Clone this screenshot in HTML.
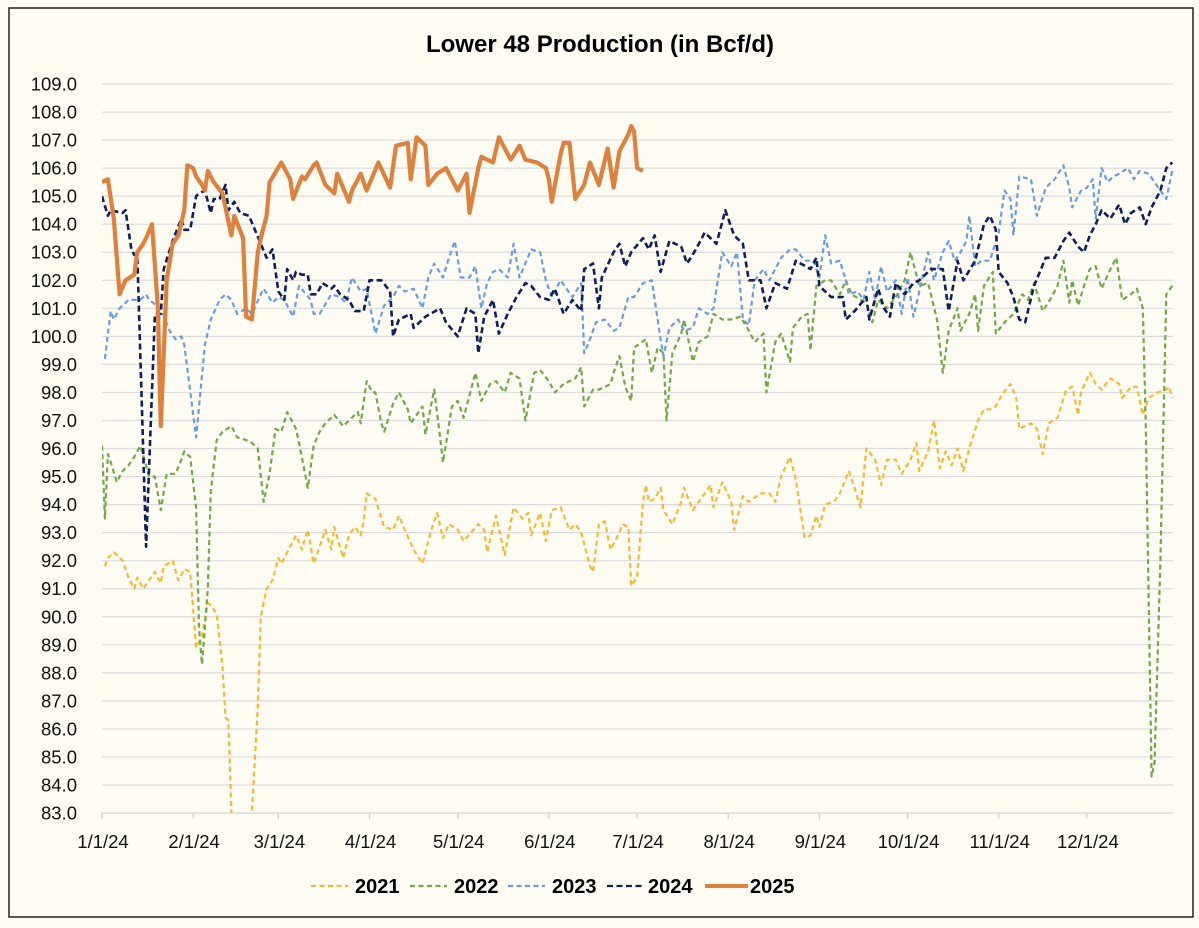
<!DOCTYPE html>
<html><head><meta charset="utf-8">
<style>
html,body{margin:0;padding:0;background:#fffcf3;}
svg{display:block;font-family:"Liberation Sans Narrow","Liberation Sans",sans-serif;}
</style></head>
<body>
<svg id="chart" width="1199" height="928" viewBox="0 0 1199 928">
<rect x="0" y="0" width="1199" height="928" fill="#fffcf3"/>
<rect x="9" y="8" width="1184" height="909" fill="none" stroke="#222" stroke-width="1.5"/>
<text x="600" y="52" text-anchor="middle" font-size="24" font-weight="bold" fill="#000" font-family="Liberation Sans, sans-serif">Lower 48 Production (in Bcf/d)</text>
<g id="grid"></g><g id="axes"></g>
<defs><clipPath id="plotclip"><rect x="102" y="70" width="1075" height="743"/></clipPath></defs>
<g id="series" clip-path="url(#plotclip)"></g>
<g id="legend"></g>
</svg>
<script>
const yTicks=[83,84,85,86,87,88,89,90,91,92,93,94,95,96,97,98,99,100,101,102,103,104,105,106,107,108,109];
const monthLabels=["1/1/24","2/1/24","3/1/24","4/1/24","5/1/24","6/1/24","7/1/24","8/1/24","9/1/24","10/1/24","11/1/24","12/1/24"];
const monthDays=[0,31,60,91,121,152,182,213,244,274,305,335];
const seriesNames=["2021","2022","2023","2024","2025"];

const days2021=[1,2,4,7,9,11,12,14,16,18,20,21,24,26,28,30,31,32,34,36,37,39,41,42,43,44,46,48,50,51,53,54,56,58,60,61,64,66,68,70,72,74,76,78,79,82,84,86,88,89,90,93,96,99,101,103,106,109,112,114,116,118,121,123,128,130,131,134,137,140,143,145,146,149,151,153,156,159,161,163,166,167,169,171,173,176,177,179,180,182,184,185,186,188,190,191,194,197,198,201,203,207,208,211,214,215,218,220,224,227,229,231,234,236,239,241,243,244,246,249,251,254,256,258,260,263,265,267,270,272,275,277,278,281,283,285,287,289,291,293,295,298,300,302,304,306,309,311,312,316,318,320,322,325,328,330,332,333,336,338,340,343,346,347,350,352,354,356,359,362,363,364];
const vals2021=[91.8,92.1,92.3,92.0,91.4,91.0,91.4,91.0,91.3,91.6,91.2,91.8,92.0,91.3,91.7,91.6,90.3,88.9,89.3,90.5,90.4,90.1,88.2,86.4,86.3,83.0,80.5,79.5,80.5,83.0,86.8,90.0,91.0,91.3,92.1,91.9,92.5,92.9,92.4,93.1,91.9,92.5,93.1,92.4,93.2,92.1,92.9,93.2,92.9,93.4,94.4,94.2,93.2,93.1,93.6,93.1,92.4,91.9,93.1,93.7,92.8,93.3,93.1,92.7,93.3,93.1,92.3,93.6,92.2,93.9,93.5,93.7,92.9,93.7,92.7,93.8,93.9,93.1,93.3,93.0,91.8,91.6,93.3,93.4,92.4,93.0,93.3,93.2,91.1,91.4,94.1,94.7,94.1,94.2,94.6,93.8,93.3,94.1,94.6,93.8,94.1,94.7,93.9,94.8,94.1,93.1,94.3,94.1,94.4,94.4,94.1,95.0,95.7,94.9,92.8,92.9,93.6,93.2,94.0,94.1,94.4,95.2,94.6,93.9,96.0,95.6,94.7,95.6,95.6,95.1,95.6,96.2,95.2,95.9,97.0,95.3,95.9,95.4,96.0,95.2,96.0,97.0,97.4,97.4,97.5,97.9,98.3,97.8,96.7,96.9,96.7,95.8,96.9,97.1,98.1,98.2,97.2,98.0,98.7,98.3,98.1,98.5,98.3,97.8,98.2,98.2,97.2,97.8,98.0,98.1,98.2,97.8];

const days2022=[0,1,2,3,5,7,9,11,13,15,16,18,20,22,25,27,28,30,32,33,34,36,37,39,41,44,46,49,51,53,55,57,59,61,63,66,67,70,72,74,76,79,82,84,87,88,90,92,93,95,96,99,101,104,105,109,110,113,115,116,119,121,123,127,129,132,134,137,139,142,144,147,149,152,154,157,161,163,164,167,169,173,174,176,178,180,181,185,187,189,191,192,194,197,198,201,203,206,208,211,214,217,219,222,225,226,229,231,234,235,238,240,241,243,246,248,251,253,255,258,260,262,264,267,270,273,275,278,281,284,286,288,291,292,295,297,298,300,303,304,307,310,313,315,317,320,323,325,327,329,330,332,334,336,338,340,343,345,347,350,352,354,355,357,358,360,362,364];
const vals2022=[96.1,93.5,95.8,95.5,94.8,95.2,95.4,95.7,96.1,95.4,95.0,95.0,93.8,95.1,95.1,95.6,95.9,95.7,93.9,89.6,88.3,91.0,94.5,96.3,96.6,96.8,96.4,96.3,96.2,96.0,94.1,95.1,96.7,96.6,97.3,96.7,96.2,94.6,96.1,96.6,96.9,97.2,96.8,97.0,97.3,96.9,98.4,98.0,98.0,96.9,96.6,97.6,98.0,97.4,96.9,97.5,96.5,98.1,96.4,95.5,97.5,97.7,97.1,98.7,97.7,98.3,98.4,98.0,98.7,98.5,97.0,98.7,98.8,98.4,98.0,98.3,98.5,98.9,97.5,98.1,98.1,98.3,98.7,99.3,98.2,97.7,99.6,99.9,98.7,99.6,99.4,97.0,99.4,100.1,100.6,99.1,99.8,100.0,100.8,100.6,100.6,100.7,100.4,99.8,100.1,98.0,99.8,100.1,99.1,100.3,100.7,100.8,99.5,101.8,102.0,102.0,101.5,102.0,101.5,101.3,101.2,100.5,101.3,101.0,101.4,102.0,103.0,101.8,101.9,100.6,98.7,100.2,101.0,100.2,100.8,101.5,100.2,101.8,102.3,100.1,100.5,100.8,101.5,101.3,101.9,100.9,101.4,101.8,102.7,101.2,102.0,101.1,101.8,102.4,102.5,101.7,102.4,102.8,101.3,101.5,101.7,101.0,97.0,84.3,84.8,92.0,101.5,101.8];

const days2023=[1,2,3,4,6,9,11,13,15,16,20,23,25,27,28,32,35,37,40,42,44,46,49,51,54,55,58,60,62,65,67,71,72,74,78,81,83,85,88,90,93,96,99,101,103,106,109,111,113,116,118,120,122,125,127,129,131,133,135,138,140,142,146,149,151,153,156,160,163,164,166,168,171,174,176,179,181,184,187,190,191,193,196,198,201,203,206,208,211,214,216,218,220,222,225,227,231,234,236,239,242,244,246,248,251,253,254,257,259,261,263,265,267,270,272,274,276,278,281,283,286,288,290,292,294,295,297,299,302,305,307,309,310,312,316,318,321,324,327,329,330,333,335,337,338,340,342,344,346,349,351,353,356,360,362,364];
const vals2023=[99.2,100.1,100.9,100.6,101.0,101.3,101.3,101.3,101.5,101.3,101.0,100.2,99.9,100.0,99.7,96.4,99.7,100.6,101.3,101.5,101.3,100.8,101.0,100.8,101.5,101.7,101.2,101.4,101.3,100.7,101.8,101.3,100.8,100.8,101.5,101.4,101.2,102.1,101.6,101.7,100.1,101.1,101.4,101.8,101.6,101.7,101.0,102.1,102.6,102.1,102.8,103.4,102.1,102.1,102.5,101.0,101.9,102.3,102.4,102.1,103.3,102.1,103.1,103.0,102.0,101.4,102.0,101.4,101.9,99.4,99.9,100.5,100.6,100.2,100.3,101.4,101.4,101.9,102.0,99.9,99.3,100.3,100.6,100.2,100.3,101.0,100.8,101.0,103.0,102.5,103.0,100.6,100.4,102.0,102.4,102.0,102.8,103.1,103.1,102.7,102.7,102.1,103.6,102.6,102.7,102.0,101.5,101.6,101.3,102.3,101.3,102.5,101.6,102.0,100.8,102.1,100.7,101.6,103.0,102.0,103.0,103.4,102.7,103.0,103.4,104.3,102.5,102.7,102.7,103.7,105.2,104.9,103.6,105.7,105.6,104.3,105.3,105.6,106.1,105.3,104.6,105.2,105.3,105.6,104.2,106.0,105.5,105.7,105.8,106.0,105.6,105.9,105.8,105.2,104.9,105.9];

const days2024=[0,2,3,7,8,10,11,12,15,18,20,21,24,27,28,30,32,33,35,37,38,40,42,43,45,47,50,52,54,56,58,60,62,63,65,66,68,70,71,73,75,78,79,81,84,86,89,91,95,98,99,101,105,106,110,115,117,121,124,127,128,130,133,135,138,141,144,146,149,152,154,157,160,163,164,167,169,170,174,176,178,180,184,186,188,190,193,197,199,202,205,209,212,215,218,220,224,226,229,233,236,241,243,244,248,252,253,256,260,261,264,266,268,270,273,276,278,282,286,288,291,293,297,300,302,304,305,308,310,312,314,317,321,324,327,329,332,334,336,338,340,343,346,348,350,353,355,357,360,362,364];
const vals2024=[105.0,104.3,104.5,104.4,104.5,103.1,102.9,102.9,92.5,100.8,100.8,102.4,103.4,104.2,103.8,103.8,105.0,105.1,105.2,104.4,104.9,104.9,105.4,104.5,104.8,104.4,104.3,103.8,103.3,102.8,103.1,101.6,101.3,102.4,102.0,102.3,102.2,102.2,101.5,101.5,101.9,101.7,101.8,101.5,101.3,100.9,100.9,102.0,102.0,101.6,100.0,100.6,100.8,100.3,100.7,101.0,100.5,100.0,101.0,100.8,99.4,100.7,101.3,100.1,100.8,101.4,101.9,101.8,101.4,101.3,101.7,100.8,101.3,100.9,102.4,102.6,101.0,102.1,103.0,103.3,102.5,103.0,103.5,103.1,103.6,102.3,103.4,103.2,102.6,103.1,103.7,103.3,104.5,103.6,103.3,102.0,102.0,101.0,101.9,101.7,102.7,102.4,102.8,101.8,101.4,101.4,100.6,100.9,101.4,100.6,101.7,101.0,100.7,101.9,101.5,101.9,102.0,102.4,102.4,100.9,102.7,102.0,102.7,104.0,104.3,103.8,102.3,101.9,101.4,100.6,100.5,101.8,102.8,102.8,103.4,103.7,103.2,103.0,103.6,104.0,104.5,104.2,104.7,104.0,104.4,104.6,104.0,104.6,105.2,106.0,106.2];

const days2025=[0,2,4,6,8,11,12,14,15,17,19,20,22,24,26,28,29,31,32,34,35,36,38,41,44,45,48,49,51,53,54,56,57,61,62,64,65,68,69,72,73,76,79,80,84,85,88,90,94,98,100,104,105,107,110,111,114,117,119,121,124,125,128,129,133,135,137,139,142,144,148,151,152,153,156,157,159,161,164,166,169,172,174,176,179,180,181,182,184];
const vals2025=[105.5,105.6,104.2,101.5,102.0,102.2,103.0,103.3,103.5,104.0,101.0,96.8,102.0,103.3,103.6,104.5,106.1,106.0,105.7,105.4,105.2,105.9,105.5,105.1,103.6,104.3,103.5,100.7,100.6,103.0,103.5,104.3,105.5,106.2,106.0,105.6,104.9,105.7,105.6,106.1,106.2,105.4,105.1,105.8,104.8,105.2,105.8,105.2,106.2,105.3,106.8,106.9,105.6,107.1,106.8,105.4,105.8,106.0,105.6,105.2,105.8,104.4,106.0,106.4,106.2,107.1,106.7,106.3,106.8,106.3,106.2,106.0,105.6,104.8,106.5,106.9,106.9,104.9,105.4,106.2,105.4,106.7,105.3,106.6,107.2,107.5,107.3,106.0,105.9];

const X0=102, PXDAY=2.94, Y109=84, PXUNIT=28.04;
function xScale(d){return X0+d*PXDAY;}
function yScale(v){return Y109+(109-v)*PXUNIT;}
const NS="http://www.w3.org/2000/svg";
function mk(tag,parent){const e=document.createElementNS(NS,tag);parent.appendChild(e);return e;}

const grid=document.getElementById('grid'), axes=document.getElementById('axes');
yTicks.forEach(v=>{
  const y=yScale(v);
  const l=mk('line',grid);
  
  
  l.setAttribute('x1',X0);l.setAttribute('x2',1173);l.setAttribute('y1',y);l.setAttribute('y2',y);
  l.setAttribute('stroke',v===83?'#cfcfcf':'#dcdcdc');l.setAttribute('stroke-width','1.2');
  const t=mk('text',axes);
  
  
  t.setAttribute('x',77);t.setAttribute('y',y+6.5);t.setAttribute('text-anchor','end');
  t.setAttribute('font-size','18.5');t.setAttribute('fill','#111');
  t.textContent=v.toFixed(1);
});
monthDays.forEach((d,i)=>{
  const x=xScale(d);
  const tk=mk('line',axes);
  
  
  tk.setAttribute('x1',x);tk.setAttribute('x2',x);tk.setAttribute('y1',813);tk.setAttribute('y2',819);
  tk.setAttribute('stroke','#cfcfcf');tk.setAttribute('stroke-width','1.2');
  const t=mk('text',axes);
  
  
  t.setAttribute('x',x+1);t.setAttribute('y',848);t.setAttribute('text-anchor','middle');
  t.setAttribute('font-size','18.5');t.setAttribute('fill','#111');
  t.textContent=monthLabels[i];
});

const styles=[
 {c:'#F2BA35',w:2.2,d:'5,3.5'},
 {c:'#71A84A',w:2.2,d:'5,3.5'},
 {c:'#6A9ED6',w:2.2,d:'5,3.5'},
 {c:'#0F1F57',w:2.6,d:'6,3.5'},
 {c:'#E0803D',w:4.2,d:''}];
const allDays=[days2021,days2022,days2023,days2024,days2025];
const allVals=[vals2021,vals2022,vals2023,vals2024,vals2025];
const sg=document.getElementById('series');
allDays.forEach((ds,i)=>{
  const vs=allVals[i];const n=Math.min(ds.length,vs.length);
  let d='';
  for(let k=0;k<n;k++){d+=(k?'L':'M')+xScale(ds[k]).toFixed(1)+' '+yScale(vs[k]).toFixed(1);}
  const p=mk('path',sg);
  
  
  p.setAttribute('d',d);p.setAttribute('fill','none');
  p.setAttribute('stroke',styles[i].c);p.setAttribute('stroke-width',styles[i].w);
  p.setAttribute('stroke-linejoin','round');
  if(styles[i].d)p.setAttribute('stroke-dasharray',styles[i].d);
});

const lg=document.getElementById('legend');
const lx=[311,410,508,607,705];
seriesNames.forEach((nm,i)=>{
  const g=mk('g',lg);
  
  
  const l=mk('line',g);
  
  
  l.setAttribute('x1',lx[i]);l.setAttribute('x2',lx[i]+(i===4?43:37));l.setAttribute('y1',886);l.setAttribute('y2',886);
  l.setAttribute('stroke',styles[i].c);l.setAttribute('stroke-width',i===4?4:2.2);
  if(styles[i].d)l.setAttribute('stroke-dasharray',styles[i].d);
  const t=mk('text',g);
  
  
  t.setAttribute('x',lx[i]+(i===3?41:(i===4?45:44)));t.setAttribute('y',893);
  t.setAttribute('font-size','20');t.setAttribute('font-weight','bold');t.setAttribute('fill','#000');
  t.textContent=nm;
});
</script>
</body></html>
